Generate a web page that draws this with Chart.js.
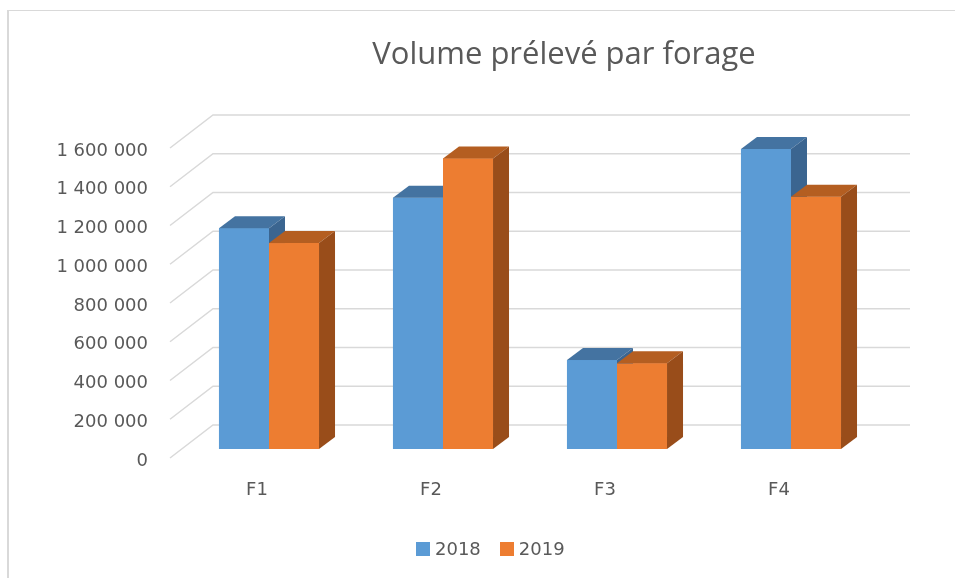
<!DOCTYPE html>
<html lang="fr">
<head>
    <meta charset="UTF-8" />
    <title>Volume prélevé par forage</title>
    <script src="https://cdn.jsdelivr.net/npm/chart.js"></script>
    <style>
        body {
            margin: 0;
            width: 955px;
            height: 578px;
            overflow: hidden;
            background: #fff;
            position: relative;
            font-family: 'DejaVu Sans', sans-serif;
            color: #595959;
        }
        #frame {
            position: absolute;
            left: 7px;
            top: 10px;
            width: 1000px;
            height: 700px;
            border-left: 2px solid #d9d9d9;
            border-top: 1px solid #d9d9d9;
        }
        #chart {
            position: absolute;
            left: 0;
            top: 0;
        }
        #title {
            position: absolute;
            left: 164px;
            width: 800px;
            top: 37px;
            text-align: center;
            font-family: 'Open Sans', sans-serif;
            font-size: 31px;
            line-height: 30px;
            color: #595959;
        }
        #legend {
            position: absolute;
            left: 416px;
            top: 540px;
            display: flex;
            gap: 19px;
            font-size: 18px;
            line-height: 18px;
        }
        #legend .item {
            display: flex;
            align-items: center;
            gap: 5px;
        }
        #legend .box {
            width: 14px;
            height: 14px;
        }
    </style>
</head>
<body>
    <div id="frame"></div>
    <canvas id="chart" width="955" height="578"></canvas>
    <div id="title">Volume prélevé par forage</div>
    <div id="legend"></div>

    <script>
        const categories = ['F1', 'F2', 'F3', 'F4'];
        const years = ['2018', '2019'];
        const volume2018 = [1140000, 1297000, 459000, 1548000];
        const volume2019 = [1063000, 1500000, 442000, 1302000];
        const yTickValues = [0, 200000, 400000, 600000, 800000, 1000000, 1200000, 1400000, 1600000];

        // front / top / side colours per series
        const faces = [
            { front: '#5b9bd5', top: '#4473a1', side: '#3b6590' },
            { front: '#ed7d31', top: '#b45e21', side: '#994d1a' }
        ];

        // perspective offsets (px) relative to the bar plane
        const frontWall = { dx: -12, dy: 9 };
        const backWall = { dx: 31, dy: -24 };
        const barDepth = { dx: 16, dy: -12 };

        function fmt(v) {
            return String(v).replace(/\B(?=(\d{3})+(?!\d))/g, ' ');
        }

        const walls = {
            id: 'walls',
            beforeDatasetsDraw(chart) {
                const { ctx, chartArea, scales: { y } } = chart;
                ctx.save();
                ctx.strokeStyle = '#d9d9d9';
                ctx.lineWidth = 1.5;
                y.ticks.forEach(t => {
                    const py = y.getPixelForValue(t.value);
                    ctx.beginPath();
                    ctx.moveTo(chartArea.left + frontWall.dx, py + frontWall.dy);
                    ctx.lineTo(chartArea.left + backWall.dx, py + backWall.dy);
                    ctx.lineTo(chartArea.right + backWall.dx + 1, py + backWall.dy);
                    ctx.stroke();
                });
                ctx.restore();
            }
        };

        // chart.js paints dataset 0 last, so the boxes are repainted here
        // series by series (2018 first) to get the right overlap
        const bars3d = {
            id: 'bars3d',
            afterDatasetsDraw(chart) {
                const { ctx } = chart;
                const { dx, dy } = barDepth;
                ctx.save();
                chart.data.datasets.forEach((ds, i) => {
                    const f = faces[i];
                    chart.getDatasetMeta(i).data.forEach(bar => {
                        const { x, y, base, width } = bar.getProps(['x', 'y', 'base', 'width'], true);
                        const x0 = x - width / 2, x1 = x + width / 2;
                        ctx.fillStyle = f.front;
                        ctx.fillRect(x0, y, width, base - y);
                        ctx.fillStyle = f.top;
                        ctx.beginPath();
                        ctx.moveTo(x0, y);
                        ctx.lineTo(x1, y);
                        ctx.lineTo(x1 + dx, y + dy);
                        ctx.lineTo(x0 + dx, y + dy);
                        ctx.closePath();
                        ctx.fill();
                        ctx.fillStyle = f.side;
                        ctx.beginPath();
                        ctx.moveTo(x1, y);
                        ctx.lineTo(x1 + dx, y + dy);
                        ctx.lineTo(x1 + dx, base + dy);
                        ctx.lineTo(x1, base);
                        ctx.closePath();
                        ctx.fill();
                    });
                });
                ctx.restore();
            }
        };

        const ctx = document.getElementById('chart').getContext('2d');
        const chart = new Chart(ctx, {
            type: 'bar',
            data: {
                labels: categories,
                datasets: [
                    { label: years[0], data: volume2018, backgroundColor: faces[0].front },
                    { label: years[1], data: volume2019, backgroundColor: faces[1].front }
                ]
            },
            options: {
                responsive: false,
                animation: false,
                events: [],
                categoryPercentage: 0.575,
                barPercentage: 1,
                layout: { padding: { left: 0, right: 77, top: 139, bottom: 69 } },
                plugins: {
                    legend: { display: false },
                    title: { display: false },
                    tooltip: { enabled: false }
                },
                scales: {
                    x: {
                        grid: { display: false, drawTicks: false },
                        border: { display: false },
                        ticks: {
                            color: '#595959',
                            font: { family: 'DejaVu Sans', size: 18 },
                            padding: 31,
                            labelOffset: frontWall.dx
                        },
                        afterFit(s) { s.height = 60; }
                    },
                    y: {
                        min: 0,
                        max: 1600000,
                        grid: { display: false, drawTicks: false },
                        border: { display: false },
                        afterBuildTicks(s) { s.ticks = yTickValues.map(v => ({ value: v })); },
                        ticks: {
                            color: '#595959',
                            font: { family: 'DejaVu Sans', size: 18 },
                            padding: 34,
                            labelOffset: 12,
                            callback: v => fmt(v)
                        },
                        afterFit(s) { s.width = 182; }
                    }
                }
            },
            plugins: [walls, bars3d]
        });

        // legend from the datasets
        const legend = document.getElementById('legend');
        chart.data.datasets.forEach(ds => {
            const item = document.createElement('div');
            item.className = 'item';
            const box = document.createElement('span');
            box.className = 'box';
            box.style.background = ds.backgroundColor;
            const txt = document.createElement('span');
            txt.textContent = ds.label;
            item.appendChild(box);
            item.appendChild(txt);
            legend.appendChild(item);
        });
    </script>
</body>
</html>
